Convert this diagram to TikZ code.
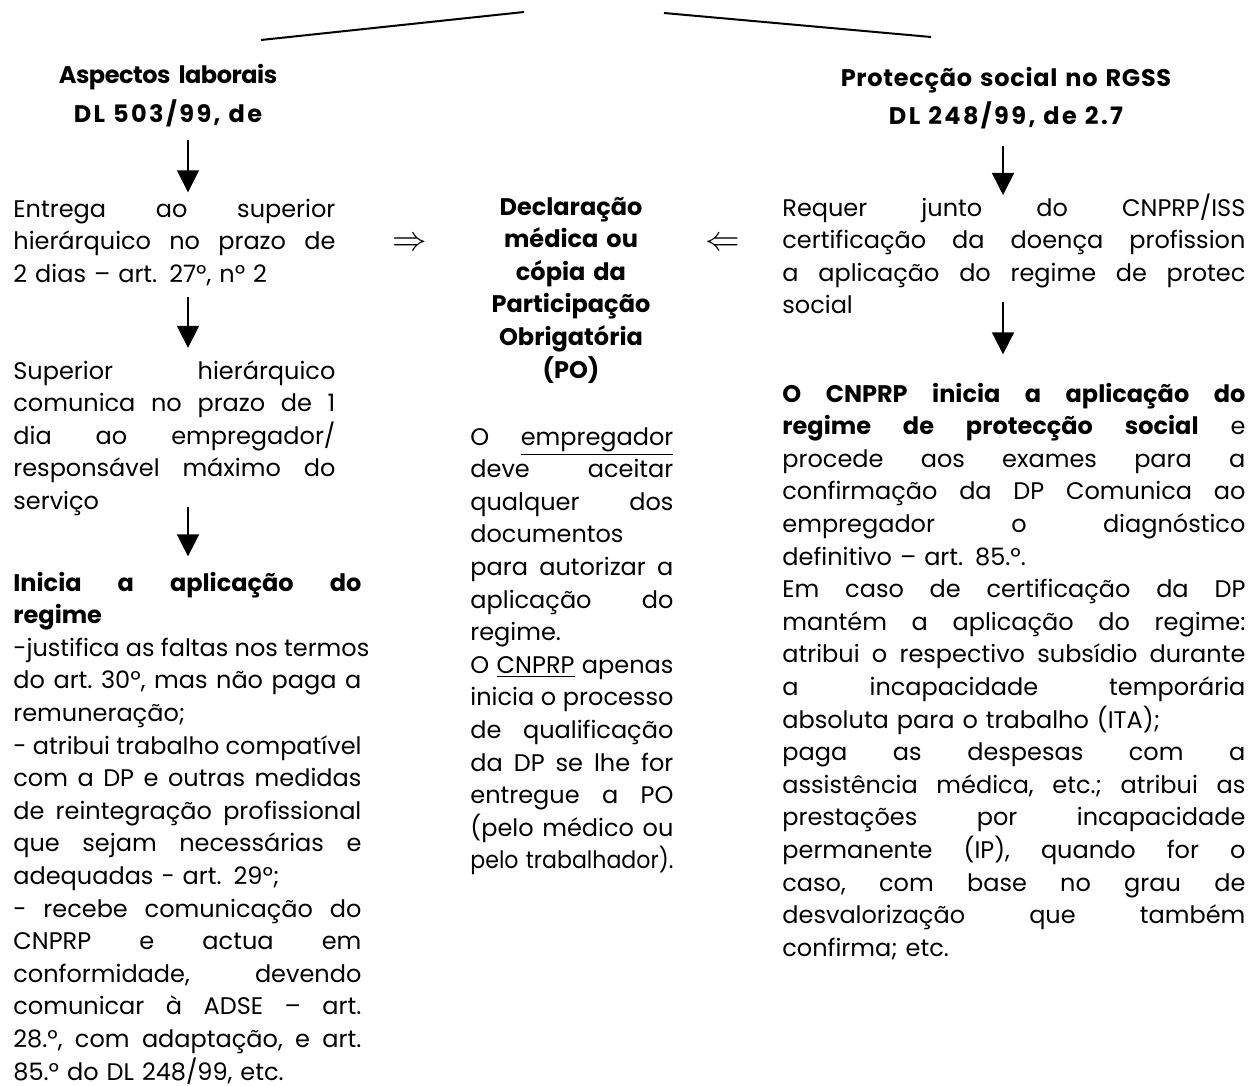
\documentclass[tikz,border=0pt]{standalone}
\usepackage{fontspec}
\setmainfont{Poppins}
\usepackage{graphicx}
\usetikzlibrary{arrows.meta, positioning}
% one justified line: the words are spread over the whole column
\def\jl#1{\hbox to\hsize{\jlw#1 \jlend}\par}
\def\jlw#1 #2\jlend{#1\ifx\relax#2\relax\else\hskip .26em plus 1fill\relax\jlw#2\jlend\fi}
\newcommand{\spaced}[2]{{\addfontfeatures{LetterSpace=#1}#2}}
\tikzstyle{head} = [inner sep=0pt, text width=160pt, align=center, anchor=base, font=\bfseries\fontsize{12pt}{19pt}\selectfont]
\tikzstyle{body} = [inner sep=0pt, anchor=base west, font=\fontsize{12pt}{16.3pt}\selectfont]
\tikzstyle{sign} = [inner sep=0pt, anchor=base, font=\fontsize{16pt}{18pt}\selectfont]
\tikzstyle{arrow} = [line width=0.8pt, -{Triangle[length=11pt, width=11pt]}]
\tikzstyle{rule} = [line width=1pt]

\begin{document}
\begin{tikzpicture}[x=0.5pt, y=-0.5pt]
	\useasboundingbox (0,0) rectangle (1252,1086);
	
	% lines to the box above
	\coordinate (la) at (261,40);
	\coordinate (lb) at (524,12);
	\coordinate (ra) at (664,13);
	\coordinate (rb) at (931,37);
	\draw [rule] (la) -- (lb);
	\draw [rule] (ra) -- (rb);
	
	% headings
	\node (hl) [head] at (168,84) {\spaced{-2}{Aspectos laborais}\\\spaced{10}{DL 503/99, de}};
	\node (hr) [head, text width=200pt] at (1006,87) {\spaced{3}{Protecção social no RGSS}\\\spaced{10}{DL 248/99, de 2.7}};
	
	% left column
	\node (e1) [body, text width=161pt] at (13,217) {
		\jl{Entrega ao superior}
		\jl{hierárquico no prazo de}
		2 dias – art. 27º, nº 2};
	\node (e2) [body, text width=161pt] at (13,379) {
		\jl{Superior hierárquico}
		\jl{comunica no prazo de 1}
		\jl{dia ao empregador/}
		\jl{responsável máximo do}
		serviço};
	\node (e3) [body, text width=174pt] at (13,591) {
		\jl{\bfseries Inicia a aplicação do}
		\textbf{regime}\par
		\jl{-justifica as faltas nos termos}
		\jl{do art. 30º, mas não paga a}
		remuneração;\par
		\jl{- atribui trabalho compatível}
		\jl{com a DP e outras medidas}
		\jl{de reintegração profissional}
		\jl{que sejam necessárias e}
		adequadas - art. 29º;\par
		\jl{- recebe comunicação do}
		\jl{CNPRP e actua em}
		\jl{conformidade, devendo}
		\jl{comunicar à ADSE – art.}
		\jl{28.º, com adaptação, e art.}
		85.º do DL 248/99, etc.};
	
	% middle column
	\node (sl) [sign] at (410,250) {$\Rightarrow$};
	\node (sr) [sign] at (723,250) {$\Leftarrow$};
	\node (mh) [head, text width=130pt, font=\bfseries\fontsize{12pt}{16.3pt}\selectfont] at (571,215) {
		Declaração\\médica ou\\cópia da\\Participação\\Obrigatória\\(PO)};
	\node (mb) [body, text width=101.5pt] at (470,445) {
		\jl{O \underline{empregador}}
		\jl{deve aceitar}
		\jl{qualquer dos}
		documentos\par
		\jl{para autorizar a}
		\jl{aplicação do}
		regime.\par
		\jl{O \underline{CNPRP} apenas}
		\jl{inicia o processo}
		\jl{de qualificação}
		\jl{da DP se lhe for}
		\jl{entregue a PO}
		\jl{(pelo médico ou}
		\resizebox{\hsize}{\height}{pelo trabalhador).}};
	
	% right column
	\node (r1) [body, text width=231.5pt] at (782,216) {
		\jl{Requer junto do CNPRP/ISS}
		\jl{certificação da doença profission}
		\jl{a aplicação do regime de protec}
		social};
	\node (r2) [body, text width=231.5pt] at (782,402) {
		\jl{\bfseries O CNPRP inicia a aplicação do}
		\jl{\bfseries regime de protecção social \mdseries e}
		\jl{procede aos exames para a}
		\jl{confirmação da DP Comunica ao}
		\jl{empregador o diagnóstico}
		definitivo – art. 85.º.\par
		\jl{Em caso de certificação da DP}
		\jl{mantém a aplicação do regime:}
		\jl{atribui o respectivo subsídio durante}
		\jl{a incapacidade temporária}
		absoluta para o trabalho (ITA);\par
		\jl{paga as despesas com a}
		\jl{assistência médica, etc.; atribui as}
		\jl{prestações por incapacidade}
		\jl{permanente (IP), quando for o}
		\jl{caso, com base no grau de}
		\jl{desvalorização que também}
		confirma; etc.};
	
	% arrows
	\coordinate (al) at (188,0);
	\coordinate (ar) at (1003,0);
	\draw [arrow, shorten <=6.5pt, shorten >=3pt] (hl.south -| al) -- (e1.north -| al);
	\draw [arrow, shorten <=5.5pt, shorten >=6pt] (e1.south -| al) -- (e2.north -| al);
	\draw [arrow, shorten <=-4.5pt, shorten >=7.5pt] (e2.south -| al) -- (e3.north -| al);
	\draw [arrow, shorten <=8pt, shorten >=-1pt] (hr.south -| ar) -- (r1.north -| ar);
	\draw [arrow, shorten <=-6pt, shorten >=14pt] (r1.south -| ar) -- (r2.north -| ar);
\end{tikzpicture}
\end{document}
